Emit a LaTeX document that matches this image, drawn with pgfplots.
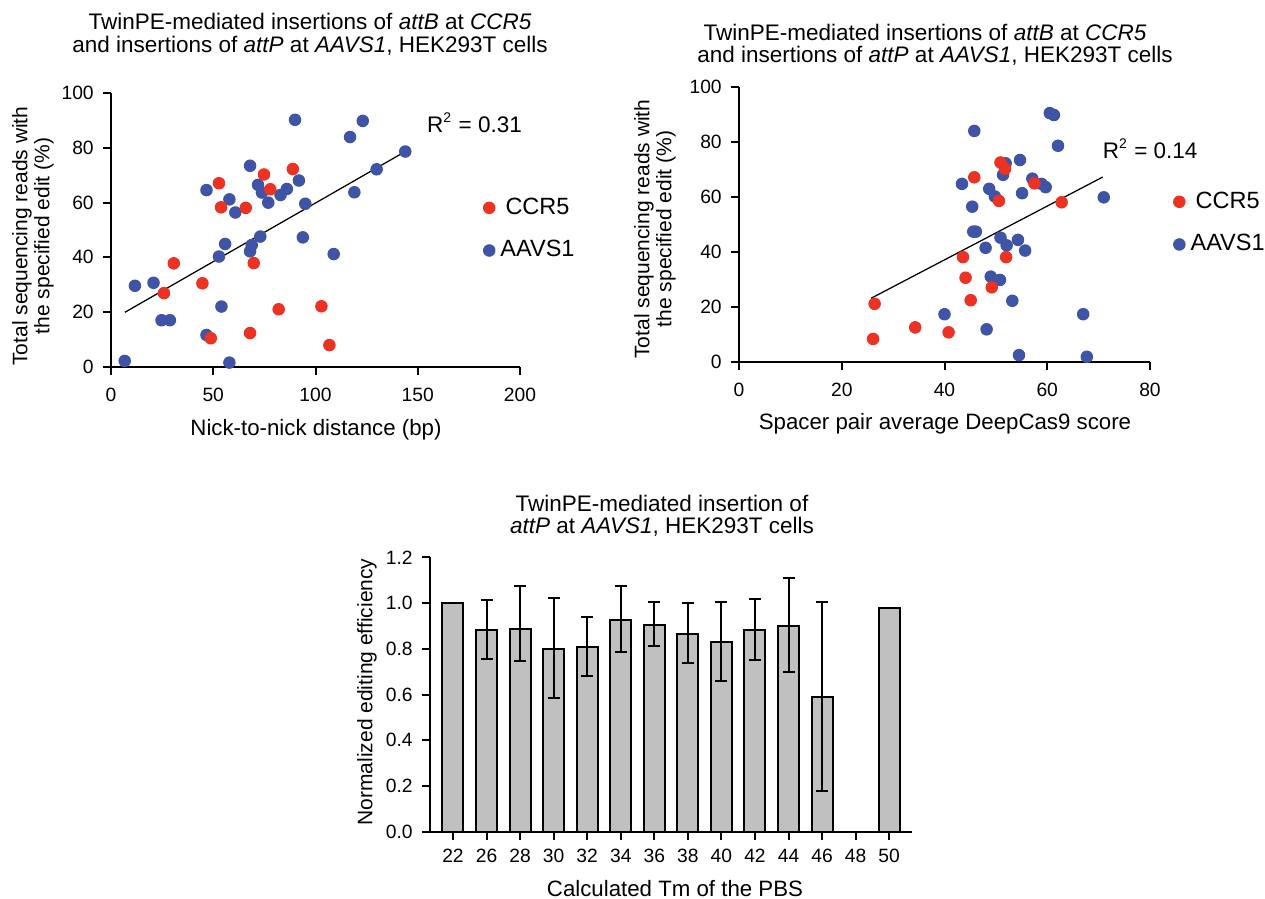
\documentclass[border=0pt]{standalone}
\usepackage{fontspec}
\setmainfont{Liberation Sans}
\usepackage{pgfplots}
\pgfplotsset{compat=1.18}
\definecolor{ccrred}{HTML}{EC3223}
\definecolor{aavsblue}{HTML}{3F54A5}
\definecolor{barfill}{HTML}{C0C0C0}

\newcommand{\tickfont}{\fontsize{7.7}{9}\selectfont}
\newcommand{\labfont}{\fontsize{8.9}{9.2}\selectfont}
\newcommand{\ylabfont}{\fontsize{8.4}{8.8}\selectfont}
\newcommand{\titfont}{\fontsize{9}{9.2}\selectfont}
\newcommand{\rfont}{\fontsize{9}{11}\selectfont}

\pgfplotsset{
  gpstyle/.style={
    scale only axis,
    anchor=south west,
    axis x line=bottom, axis y line=left,
    axis line style={-, line width=0.8pt},
    tick align=outside,
    major tick length=3.4pt,
    tick style={line width=0.8pt, black},
    ticklabel style={font=\tickfont},
    /pgf/number format/assume math mode=true,
    clip=false,
  },
  scat/.style={only marks, mark=*, mark size=2.3pt},
  gplegend/.style={
    reverse legend,
    legend style={draw=none, fill=none, inner sep=0pt,
      font=\fontsize{9.4}{10}\selectfont,
      row sep=9pt, column sep=2.2pt, nodes={inner sep=0pt}},
    legend image code/.code={\draw[##1] plot coordinates {(0pt,0pt)};},
  },
}

\begin{document}
\begin{tikzpicture}
\useasboundingbox (0,0) rectangle (506pt,359.2pt);

% left scatter: nick-to-nick distance
\begin{axis}[gpstyle, gplegend,
    at={(44.4pt,212.52pt)}, width=163.6pt, height=109.36pt,
    xmin=0, xmax=200, ymin=0, ymax=100,
    xtick={0,50,100,150,200}, ytick={0,20,40,60,80,100},
    xticklabel style={yshift=-1.5pt},
    legend style={at={(axis cs:181.9,50.3)}, anchor=west}]
\addplot[scat, aavsblue] coordinates {
(90,90.3) (123.1,89.9) (116.9,84.0) (143.9,78.7) (68.0,73.5) (129.9,72.2)
(91.9,68.1) (71.9,66.5) (86.0,65.0) (46.7,64.6) (73.8,63.7) (119.0,63.8)
(82.9,62.8) (57.9,61.2) (76.9,60.0) (95.0,59.6) (60.8,56.4) (73.0,47.6)
(93.8,47.3) (55.8,44.9) (68.8,44.5) (68.0,42.2) (108.9,41.2) (52.8,40.3)
(20.8,30.7) (11.7,29.6) (54.0,22.0) (24.7,17.0) (28.8,17.0) (46.7,11.6)
(6.7,2.1) (57.9,1.5)
};
\addlegendentry{AAVS1}
\addplot[scat, ccrred] coordinates {
(88.9,72.3) (74.8,70.3) (52.8,67.1) (77.9,64.9) (53.8,58.3) (65.9,58.1)
(69.8,37.9) (30.7,37.8) (44.7,30.5) (25.9,26.9) (82.0,21.0) (102.9,22.1)
(48.8,10.4) (68.0,12.3) (106.8,7.9)
};
\addlegendentry{CCR5}
\addplot[black, line width=0.5pt, forget plot] coordinates {(6.8,19.9) (143.9,78.7)};
\end{axis}

% right scatter: DeepCas9 score
\begin{axis}[gpstyle, gplegend,
    at={(295.6pt,214.52pt)}, width=164.4pt, height=109.76pt,
    xmin=0, xmax=80, ymin=0, ymax=100,
    xtick={0,20,40,60,80}, ytick={0,20,40,60,80,100},
    xticklabel style={yshift=-1.5pt},
    legend style={at={(axis cs:84.5,50.5)}, anchor=west}]
\addplot[scat, aavsblue] coordinates {
(60.5,90.6) (61.3,89.9) (45.8,84.1) (62.1,78.7) (54.7,73.5) (51.9,72.3)
(51.4,68.1) (43.4,64.8) (57.1,66.7) (58.9,64.8) (59.7,63.6) (48.7,63.0)
(49.8,60.2) (55.1,61.4) (71.0,59.9) (45.4,56.5) (45.6,47.4) (46.1,47.4)
(50.9,45.2) (52.1,42.4) (54.3,44.4) (55.7,40.5) (48.0,41.5) (49.0,31.0)
(50.8,29.8) (53.2,22.2) (67.0,17.3) (40.0,17.3) (48.2,11.8) (54.5,2.4)
(67.7,1.8)
};
\addlegendentry{AAVS1}
\addplot[scat, ccrred] coordinates {
(26.4,21.1) (26.1,8.3) (34.3,12.5) (40.8,10.7) (50.9,72.6) (51.8,70.3)
(45.8,67.2) (57.5,65.0) (50.6,58.6) (62.8,58.1) (43.6,38.1) (52.0,38.1)
(44.1,30.6) (49.2,27.1) (45.1,22.4)
};
\addlegendentry{CCR5}
\addplot[black, line width=0.5pt, forget plot] coordinates {(25.7,23.1) (70.8,67.3)};
\end{axis}

% bottom bar chart: Tm of the PBS
\begin{axis}[gpstyle,
    at={(172pt,26.52pt)}, width=192.8pt, height=109.76pt,
    xmin=-0.685, xmax=13.68, ymin=0, ymax=1.2,
    ytick={0,0.2,0.4,0.6,0.8,1.0,1.2},
    yticklabel style={/pgf/number format/.cd, fixed, fixed zerofill, precision=1},
    xtick={0,1,2,3,4,5,6,7,8,9,10,11,12,13},
    xticklabels={22,26,28,30,32,34,36,38,40,42,44,46,48,50}]
\addplot[ybar, bar shift=0pt, bar width=8.4pt, fill=barfill, draw=black, line width=0.8pt,
    error bars/.cd, y dir=both, y explicit,
    error bar style={line width=0.8pt, black},
    error mark options={rotate=90, line width=0.8pt, mark size=2.4pt, black}]
coordinates {
(0,1.0) +- (0,0)
(1,0.883) += (0,0.130) -= (0,0.127)
(2,0.887) += (0,0.186) -= (0,0.140)
(3,0.801) += (0,0.221) -= (0,0.217)
(4,0.807) += (0,0.133) -= (0,0.125)
(5,0.928) += (0,0.148) -= (0,0.140)
(6,0.904) += (0,0.102) -= (0,0.094)
(7,0.864) += (0,0.134) -= (0,0.125)
(8,0.831) += (0,0.175) -= (0,0.170)
(9,0.883) += (0,0.136) -= (0,0.130)
(10,0.901) += (0,0.207) -= (0,0.202)
(11,0.588) += (0,0.415) -= (0,0.408)
(13,0.978) +- (0,0)
};
\end{axis}

\begin{scope}[x=0.4pt, y=0.4pt, every node/.style={inner sep=0pt}]
% titles
\node[anchor=base, font=\titfont] at (310,868.5) {TwinPE-mediated insertions of \textit{attB} at \textit{CCR5}};
\node[anchor=base, font=\titfont] at (310,845.5) {and insertions of \textit{attP} at \textit{AAVS1}, HEK293T cells};
\node[anchor=base, font=\titfont] at (925,857.5) {TwinPE-mediated insertions of \textit{attB} at \textit{CCR5}};
\node[anchor=base, font=\titfont] at (935,835.5) {and insertions of \textit{attP} at \textit{AAVS1}, HEK293T cells};
\node[anchor=base, font=\titfont] at (662,386.5) {TwinPE-mediated insertion of};
\node[anchor=base, font=\titfont] at (662,364.5) {\textit{attP} at \textit{AAVS1}, HEK293T cells};
% x labels
\node[anchor=base, font=\labfont] at (316,463) {Nick-to-nick distance (bp)};
\node[anchor=base, font=\labfont] at (945,469) {Spacer pair average DeepCas9 score};
\node[anchor=base, font=\labfont] at (675,2) {Calculated Tm of the PBS};
% y labels
\node[rotate=90, align=center, font=\ylabfont] at (33,662) {Total sequencing reads with\\the specified edit (\%)};
\node[rotate=90, align=center, font=\ylabfont] at (655,669) {Total sequencing reads with\\the specified edit (\%)};
\node[rotate=90, font=\ylabfont] at (367,206) {Normalized editing efficiency};
% fit statistics
\node[anchor=base west, font=\rfont] at (426.7,765.7) {R\textsuperscript{\fontsize{5.6}{6}\selectfont 2} = 0.31};
\node[anchor=base west, font=\rfont] at (1102.3,739.7) {R\textsuperscript{\fontsize{5.6}{6}\selectfont 2} = 0.14};
\end{scope}
\end{tikzpicture}
\end{document}
